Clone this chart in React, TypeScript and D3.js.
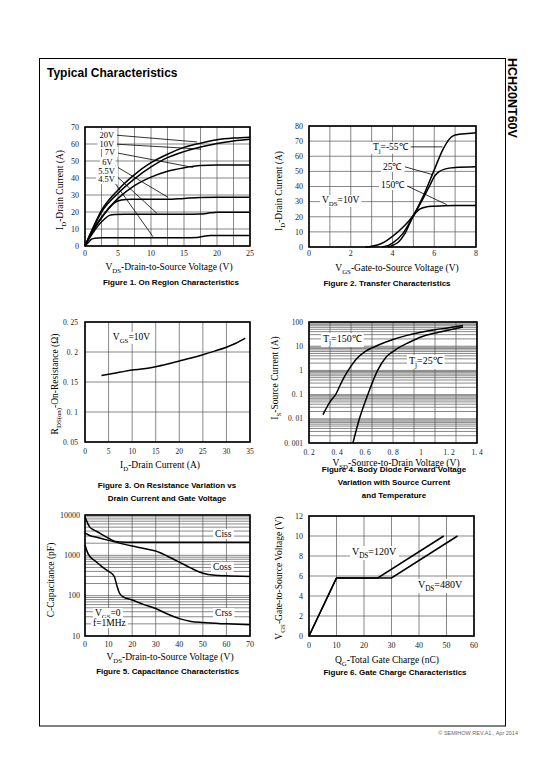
import React, { useLayoutEffect, useRef, useState } from 'react';
import * as d3 from 'd3';

const SERIF = '"Liberation Serif", "Times New Roman", serif';
const SANS = '"Liberation Sans", Arial, sans-serif';

// ---------- Figure 1: On Region Characteristics ----------
const fig1Vds20 = [0, 1, 2.5, 5, 7.5, 10, 12.5, 15, 17.5, 20, 22.5, 25];
const fig1Id20 = [0, 9, 21, 33, 42, 49, 54, 58, 60.5, 62.5, 63.5, 64];
const fig1Vds10 = [0, 1, 2.5, 5, 7.5, 10, 12.5, 15, 17.5, 20, 22.5, 25];
const fig1Id10 = [0, 8.5, 20, 31, 39.5, 46.5, 52, 55.5, 58.2, 60.3, 61.8, 62.8];
const fig1Vds7 = [0, 1, 2.5, 5, 7.5, 10, 12.5, 15, 17.5, 20, 25];
const fig1Id7 = [0, 8, 17, 28, 35.5, 40.5, 44, 46, 47.3, 47.6, 47.6];
const fig1Vds6 = [0, 1, 2.5, 3.5, 4.5, 5.5, 7, 10, 12.5, 15, 17.5, 20, 25];
const fig1Id6 = [0, 7.5, 16.5, 21.5, 25.5, 27, 27.5, 27.5, 27.5, 28, 28.5, 28.7, 28.7];
const fig1Vds55 = [0, 1, 2, 3, 3.7, 4.5, 6, 10, 15, 17.5, 19, 20, 25];
const fig1Id55 = [0, 6.5, 12, 16, 18, 18.5, 18.7, 18.7, 18.7, 18.8, 19.5, 19.8, 19.8];
const fig1Vds45 = [0, 0.5, 1, 1.5, 2.5, 5, 10, 15, 17, 18, 19, 25];
const fig1Id45 = [0, 2, 4, 4.6, 4.8, 4.8, 4.8, 4.8, 5, 5.8, 6.2, 6.2];
const fig1XTicks = [0, 5, 10, 15, 20, 25];
const fig1YTicks = [0, 10, 20, 30, 40, 50, 60, 70];

// ---------- Figure 2: Transfer Characteristics ----------
const fig2VgsM55 = [2.7, 3, 3.5, 4, 4.5, 5, 5.5, 6, 6.4, 6.7, 6.9, 7.2, 7.6, 8];
const fig2IdM55 = [0, 0.5, 2.5, 7, 13, 21, 34.5, 51, 64, 71, 73.5, 74.5, 75, 75.5];
const fig2Vgs25 = [3.5, 3.8, 4, 4.5, 5, 5.5, 5.8, 6, 6.2, 6.5, 7, 8];
const fig2Id25 = [0, 1, 2.5, 9, 20.5, 33, 41, 46.5, 49.5, 51.5, 52.5, 53];
const fig2Vgs150 = [3.8, 4, 4.3, 4.6, 5, 5.3, 5.6, 6, 7, 8];
const fig2Id150 = [0, 1, 3.5, 9, 20.5, 25, 26.5, 27, 27.5, 27.5];
const fig2XTicks = [0, 2, 4, 6, 8];
const fig2YTicks = [0, 10, 20, 30, 40, 50, 60, 70, 80];

// ---------- Figure 3: On Resistance ----------
const fig3Id = [3.5, 5, 7.5, 10, 12.5, 15, 17.5, 20, 22.5, 25, 27.5, 30, 32, 34];
const fig3Rds = [0.161, 0.163, 0.1665, 0.17, 0.172, 0.1755, 0.18, 0.185, 0.19, 0.1955, 0.2015, 0.208, 0.2145, 0.223];
const fig3XTicks = [0, 5, 10, 15, 20, 25, 30, 35];
const fig3YTicks = [0.05, 0.1, 0.15, 0.2, 0.25];
const fig3YTickLabels = ['0. 05', '0. 1', '0. 15', '0. 2', '0. 25'];

// ---------- Figure 4: Body Diode ----------
const fig4Vsd150 = [0.3, 0.35, 0.39, 0.44, 0.48, 0.54, 0.6, 0.65, 0.7, 0.8, 0.9, 1.0, 1.1, 1.2, 1.3];
const fig4Is150 = [0.015, 0.05, 0.1, 0.4, 1, 3, 6, 8.5, 11.5, 19, 28, 38, 48, 58, 72];
const fig4Vsd25 = [0.514, 0.56, 0.62, 0.69, 0.75, 0.8, 0.86, 0.9, 1.0, 1.1, 1.2, 1.3];
const fig4Is25 = [0.001, 0.01, 0.1, 1, 3.5, 6, 10, 13, 24, 35, 47, 62];
const fig4XTicks = [0.2, 0.4, 0.6, 0.8, 1, 1.2, 1.4];
const fig4XTickLabels = ['0. 2', '0. 4', '0. 6', '0. 8', '1', '1. 2', '1. 4'];
const fig4YTicks = [0.001, 0.01, 0.1, 1, 10, 100];
const fig4YTickLabels = ['0. 001', '0. 01', '0. 1', '1', '10', '100'];

// ---------- Figure 5: Capacitance ----------
const fig5VdsCiss = [0, 1, 2, 3, 5, 7.5, 10, 12.5, 15, 20, 30, 40, 50, 60, 70];
const fig5Ciss = [9000, 6500, 5000, 4500, 3900, 3200, 2650, 2250, 2150, 2120, 2120, 2120, 2110, 2100, 2100];
const fig5VdsCoss = [0, 2, 5, 10, 15, 20, 25, 30, 35, 40, 45, 50, 55, 60, 70];
const fig5Coss = [3600, 3100, 2800, 2350, 1980, 1700, 1480, 1280, 950, 680, 480, 360, 320, 310, 300];
const fig5VdsCrss = [0, 1, 2, 4, 6, 8, 10, 11.5, 12.5, 13.5, 14.5, 16, 20, 25, 30, 35, 40, 45, 50, 60, 70];
const fig5Crss = [1800, 1200, 950, 750, 600, 480, 400, 350, 290, 180, 120, 95, 78, 60, 48, 35, 27, 23, 21.5, 20, 19];
const fig5XTicks = [0, 10, 20, 30, 40, 50, 60, 70];
const fig5YTicks = [10, 100, 1000, 10000];

// ---------- Figure 6: Gate Charge ----------
const fig6Qg120 = [0, 10, 25, 49];
const fig6Vgs120 = [0, 5.8, 5.8, 10];
const fig6Qg480 = [0, 10, 30, 54];
const fig6Vgs480 = [0, 5.8, 5.8, 10];
const fig6XTicks = [0, 10, 20, 30, 40, 50, 60];
const fig6YTicks = [0, 2, 4, 6, 8, 10, 12];

type Seg = { t: string; sub?: boolean };
const S = (t: string, sub = false): Seg => ({ t, sub });

const zip = (xs: number[], ys: number[]): [number, number][] => xs.map((v, i) => [v, ys[i]]);
const logGrid = (min: number, max: number) => {
  const out: number[] = [];
  for (let k = Math.round(Math.log10(min)); k < Math.round(Math.log10(max)); k++) {
    for (let m = 1; m <= 9; m++) out.push(m * Math.pow(10, k));
  }
  out.push(max);
  return out;
};

function RichText(props: any) {
  const { segs, size, x, y, anchor = 'start', transform, font = SERIF, weight, textRef, fill = '#000' } = props;
  const subSize = size * 0.72;
  const shift = size * 0.3;
  return (
    <text ref={textRef} x={x} y={y} transform={transform} textAnchor={anchor} fontFamily={font}
      fontSize={size} fontWeight={weight} fill={fill}>
      {segs.map((s: Seg, i: number) => {
        const prev = i > 0 ? !!segs[i - 1].sub : false;
        const cur = !!s.sub;
        const dy = cur && !prev ? shift : !cur && prev ? -shift : 0;
        return (
          <tspan key={i} dy={dy || undefined} fontSize={cur ? subSize : size}>{s.t}</tspan>
        );
      })}
    </text>
  );
}

function BoxedLabel(props: any) {
  const { segs, size, x, y, box, pad = 2 } = props;
  const ref = useRef<SVGTextElement>(null);
  const [bb, setBb] = useState<any>(null);
  useLayoutEffect(() => {
    if (ref.current && box) {
      const b = ref.current.getBBox();
      setBb({ x: b.x, y: b.y, w: b.width, h: b.height });
    }
  }, []);
  return (
    <g>
      {bb && <rect x={bb.x - pad} y={bb.y} width={bb.w + 2 * pad} height={bb.h} fill="#fff" />}
      <RichText textRef={ref} segs={segs} size={size} x={x} y={y} />
    </g>
  );
}

type PanelCfg = {
  box: { l: number; r: number; t: number; b: number };
  xDomain: [number, number];
  yDomain: [number, number];
  yLog?: boolean;
  gridX: number[];
  gridY: number[];
  xTicks: number[];
  xTickLabels: string[];
  yTicks: number[];
  yTickLabels: string[];
  xTickDy: number;
  yTickDx: number;
  tickSize?: number;
  series: { pts: [number, number][]; linear?: boolean }[];
  leaders?: [number, number, number, number][];
  labels?: { segs: Seg[]; x: number; y: number; size: number; box?: boolean }[];
  xLabel: { segs: Seg[]; cx: number; y: number };
  yLabel: { segs: Seg[]; x: number; cy: number };
  caption: { lines: string[]; cx: number; y: number };
};

function Panel({ cfg }: { cfg: PanelCfg }) {
  const { l, r, t, b } = cfg.box;
  const x = d3.scaleLinear().domain(cfg.xDomain).range([l, r]);
  const y = (cfg.yLog ? d3.scaleLog() : d3.scaleLinear()).domain(cfg.yDomain).range([b, t]);
  const ts = cfg.tickSize || 8;
  return (
    <g>
      <rect x={l} y={t} width={r - l} height={b - t} fill="#fff" />
      {cfg.gridX.map((v, i) => (
        <line key={'gx' + i} x1={x(v)} x2={x(v)} y1={t} y2={b} stroke="#555" strokeWidth={0.7} />
      ))}
      {cfg.gridY.map((v, i) => (
        <line key={'gy' + i} x1={l} x2={r} y1={y(v)} y2={y(v)} stroke="#555" strokeWidth={0.7} />
      ))}
      {cfg.series.map((s, i) => {
        const line = d3.line<[number, number]>()
          .x((d) => x(d[0]))
          .y((d) => y(d[1]))
          .curve(s.linear ? d3.curveLinear : d3.curveMonotoneX);
        return <path key={'s' + i} d={line(s.pts) || ''} fill="none" stroke="#000" strokeWidth={1.5} />;
      })}
      {(cfg.leaders || []).map((ld, i) => (
        <line key={'ld' + i} x1={x(ld[0])} y1={y(ld[1])} x2={x(ld[2])} y2={y(ld[3])} stroke="#000" strokeWidth={0.8} />
      ))}
      {(cfg.labels || []).map((lb, i) => (
        <BoxedLabel key={'lb' + i} segs={lb.segs} size={lb.size} x={x(lb.x)} y={y(lb.y)} box={lb.box} />
      ))}
      <rect x={l} y={t} width={r - l} height={b - t} fill="none" stroke="#000" strokeWidth={1.6} />
      {cfg.xTicks.map((v, i) => (
        <text key={'xt' + i} x={x(v)} y={b + cfg.xTickDy} textAnchor="middle" fontFamily={SERIF} fontSize={ts} fill="#222">
          {cfg.xTickLabels[i]}
        </text>
      ))}
      {cfg.yTicks.map((v, i) => (
        <text key={'yt' + i} x={l - cfg.yTickDx} y={y(v) + ts * 0.35} textAnchor="end" fontFamily={SERIF} fontSize={ts} fill="#222">
          {cfg.yTickLabels[i]}
        </text>
      ))}
      <RichText segs={cfg.xLabel.segs} size={9.5} x={cfg.xLabel.cx} y={cfg.xLabel.y} anchor="middle" />
      <RichText segs={cfg.yLabel.segs} size={9.5} x={0} y={0} anchor="middle"
        transform={`translate(${cfg.yLabel.x},${cfg.yLabel.cy}) rotate(-90)`} />
      {cfg.caption.lines.map((ln, i) => (
        <text key={'cap' + i} x={cfg.caption.cx} y={cfg.caption.y + i * 13} textAnchor="middle"
          fontFamily={SANS} fontWeight="bold" fontSize={8} fill="#000">{ln}</text>
      ))}
    </g>
  );
}

const str = (a: number[]) => a.map((v) => String(v));

export default function App() {
  const panels: PanelCfg[] = [
    {
      box: { l: 85, r: 250, t: 127, b: 246 },
      xDomain: [0, 25], yDomain: [0, 70],
      gridX: d3.range(0, 25.01, 2.5), gridY: d3.range(0, 70.01, 10),
      xTicks: fig1XTicks, xTickLabels: str(fig1XTicks),
      yTicks: fig1YTicks, yTickLabels: str(fig1YTicks),
      xTickDy: 9.5, yTickDx: 6,
      series: [
        { pts: zip(fig1Vds20, fig1Id20) }, { pts: zip(fig1Vds10, fig1Id10) },
        { pts: zip(fig1Vds7, fig1Id7) }, { pts: zip(fig1Vds6, fig1Id6) },
        { pts: zip(fig1Vds55, fig1Id55) }, { pts: zip(fig1Vds45, fig1Id45) },
      ],
      leaders: [
        [4.4, 65.3, 17, 61.2], [4.3, 60, 17.6, 57], [4.1, 55.3, 16.4, 46.2],
        [3.6, 49.4, 12.6, 28.6], [4.1, 43.5, 10.9, 19.2], [4.1, 39.4, 10.3, 5.5],
      ],
      labels: [
        { segs: [S('20V')], x: 2.2, y: 63.5, size: 8.5, box: true },
        { segs: [S('10V')], x: 2.2, y: 58.3, size: 8.5, box: true },
        { segs: [S('7V')], x: 3.0, y: 53.5, size: 8.5, box: true },
        { segs: [S('6V')], x: 2.6, y: 47.6, size: 8.5, box: true },
        { segs: [S('5.5V')], x: 2.0, y: 42.4, size: 8.5, box: true },
        { segs: [S('4.5V')], x: 2.0, y: 37.6, size: 8.5, box: true },
      ],
      xLabel: { segs: [S('V'), S('DS', true), S('-Drain-to-Source Voltage (V)')], cx: 169, y: 270 },
      yLabel: { segs: [S('I'), S('D', true), S('-Drain Current (A)')], x: 63, cy: 190 },
      caption: { lines: ['Figure 1. On Region Characteristics'], cx: 171, y: 285 },
    },
    {
      box: { l: 309, r: 476, t: 126, b: 247 },
      xDomain: [0, 8], yDomain: [0, 80],
      gridX: d3.range(0, 8.01, 1), gridY: d3.range(0, 80.01, 10),
      xTicks: fig2XTicks, xTickLabels: str(fig2XTicks),
      yTicks: fig2YTicks, yTickLabels: str(fig2YTicks),
      xTickDy: 9, yTickDx: 6,
      series: [
        { pts: zip(fig2VgsM55, fig2IdM55) }, { pts: zip(fig2Vgs25, fig2Id25) },
        { pts: zip(fig2Vgs150, fig2Id150) },
      ],
      leaders: [[4.8, 66.2, 6.4, 66.2], [4.6, 53, 5.93, 47.8], [4.6, 41, 6.6, 28]],
      labels: [
        { segs: [S('T'), S('j', true), S('=-55℃')], x: 3.06, y: 64.2, size: 9.5, box: true },
        { segs: [S('25℃')], x: 3.54, y: 51, size: 9.5, box: true },
        { segs: [S('150℃')], x: 3.45, y: 39, size: 9.5, box: true },
        { segs: [S('V'), S('DS', true), S('=10V')], x: 0.62, y: 29, size: 9.5, box: true },
      ],
      xLabel: { segs: [S('V'), S('GS', true), S('-Gate-to-Source Voltage (V)')], cx: 397, y: 271 },
      yLabel: { segs: [S('I'), S('D', true), S('-Drain Current (A)')], x: 282, cy: 191 },
      caption: { lines: ['Figure 2. Transfer Characteristics'], cx: 387, y: 286 },
    },
    {
      box: { l: 85, r: 250, t: 322, b: 442 },
      xDomain: [0, 35], yDomain: [0.05, 0.25],
      gridX: d3.range(0, 35.01, 5), gridY: d3.range(0.05, 0.2501, 0.05),
      xTicks: fig3XTicks, xTickLabels: str(fig3XTicks),
      yTicks: fig3YTicks, yTickLabels: fig3YTickLabels,
      xTickDy: 12, yTickDx: 7, tickSize: 7.5,
      series: [{ pts: zip(fig3Id, fig3Rds) }],
      labels: [{ segs: [S('V'), S('GS', true), S('=10V')], x: 5.9, y: 0.22, size: 9.5, box: true }],
      xLabel: { segs: [S('I'), S('D', true), S('-Drain Current (A)')], cx: 160, y: 468 },
      yLabel: { segs: [S('R'), S('DS(on)', true), S('-On-Resistance (Ω)')], x: 58, cy: 384 },
      caption: { lines: ['Figure 3. On Resistance Variation vs', 'Drain Current and Gate Voltage'], cx: 167, y: 488 },
    },
    {
      box: { l: 309, r: 477, t: 322, b: 443 },
      xDomain: [0.2, 1.4], yDomain: [0.001, 100], yLog: true,
      gridX: d3.range(0, 9).map((i) => 0.2 + i * 0.15), gridY: logGrid(0.001, 100),
      xTicks: fig4XTicks, xTickLabels: fig4XTickLabels,
      yTicks: fig4YTicks, yTickLabels: fig4YTickLabels,
      xTickDy: 12, yTickDx: 6, tickSize: 7.5,
      series: [{ pts: zip(fig4Vsd150, fig4Is150) }, { pts: zip(fig4Vsd25, fig4Is25) }],
      labels: [
        { segs: [S('T'), S('j', true), S('=150℃')], x: 0.3, y: 14.8, size: 10, box: true },
        { segs: [S('T'), S('j', true), S('=25℃')], x: 0.914, y: 1.84, size: 10, box: true },
      ],
      xLabel: { segs: [S('V'), S('SD', true), S('-Source-to-Drain Voltage (V)')], cx: 396, y: 466 },
      yLabel: { segs: [S('I'), S('S', true), S('-Source Current (A)')], x: 278, cy: 378 },
      caption: { lines: ['Figure 4. Body Diode Forward Voltage', 'Variation with Source Current', 'and Temperature'], cx: 394, y: 471.5 },
    },
    {
      box: { l: 85, r: 250, t: 515, b: 636 },
      xDomain: [0, 70], yDomain: [10, 10000], yLog: true,
      gridX: d3.range(0, 70.01, 10), gridY: logGrid(10, 10000),
      xTicks: fig5XTicks, xTickLabels: str(fig5XTicks),
      yTicks: fig5YTicks, yTickLabels: str(fig5YTicks),
      xTickDy: 11, yTickDx: 5,
      series: [
        { pts: zip(fig5VdsCiss, fig5Ciss) }, { pts: zip(fig5VdsCoss, fig5Coss) },
        { pts: zip(fig5VdsCrss, fig5Crss) },
      ],
      labels: [
        { segs: [S('Ciss')], x: 55.2, y: 2860, size: 9.5, box: true },
        { segs: [S('Coss')], x: 54.3, y: 437, size: 9.5, box: true },
        { segs: [S('Crss')], x: 55.2, y: 31.3, size: 9.5, box: true },
        { segs: [S('V'), S('GS', true), S('=0')], x: 4.2, y: 31.3, size: 9.5, box: true },
        { segs: [S('f=1MHz')], x: 3.4, y: 17.7, size: 9.5, box: true },
      ],
      xLabel: { segs: [S('V'), S('DS', true), S('-Drain-to-Source Voltage (V)')], cx: 170, y: 660 },
      yLabel: { segs: [S('C-Capacitance (pF)')], x: 54, cy: 580 },
      caption: { lines: ['Figure 5. Capacitance Characteristics'], cx: 167.5, y: 674 },
    },
    {
      box: { l: 309, r: 474, t: 516, b: 636 },
      xDomain: [0, 60], yDomain: [0, 12],
      gridX: d3.range(0, 60.01, 10), gridY: d3.range(0, 12.01, 2),
      xTicks: fig6XTicks, xTickLabels: str(fig6XTicks),
      yTicks: fig6YTicks, yTickLabels: str(fig6YTicks),
      xTickDy: 12, yTickDx: 6,
      series: [
        { pts: zip(fig6Qg120, fig6Vgs120), linear: true },
        { pts: zip(fig6Qg480, fig6Vgs480), linear: true },
      ],
      labels: [
        { segs: [S('V'), S('DS', true), S('=120V')], x: 15.6, y: 8.1, size: 10, box: true },
        { segs: [S('V'), S('DS', true), S('=480V')], x: 39.6, y: 4.8, size: 10, box: true },
      ],
      xLabel: { segs: [S('Q'), S('G', true), S('-Total Gate Charge (nC)')], cx: 387, y: 663 },
      yLabel: { segs: [S('V'), S('GS', true), S('-Gate-to-Source Voltage (V)')], x: 282, cy: 578 },
      caption: { lines: ['Figure 6. Gate Charge Characteristics'], cx: 395, y: 675 },
    },
  ];

  return (
    <svg width={540} height={780} viewBox="0 0 540 780"
      style={{ position: 'absolute', left: 0, top: 0, background: '#fff' }}>
      <rect x={0} y={0} width={540} height={780} fill="#fff" />
      <rect x={39.5} y={58.5} width={466} height={667.5} fill="none" stroke="#000" strokeWidth={1} />
      <text x={47} y={76.5} fontFamily={SANS} fontWeight="bold" fontSize={12} fill="#000">Typical Characteristics</text>
      <text x={0} y={0} transform="translate(508,58) rotate(90)" fontFamily={SANS} fontWeight="bold" fontSize={12.5} fill="#000">
        HCH20NT60V
      </text>
      {panels.map((p, i) => <Panel key={i} cfg={p} />)}
      <text x={518} y={735} textAnchor="end" fontFamily={SANS} fontSize={5.5} fill="#666">© SEMIHOW REV.A1., Apr 2014</text>
    </svg>
  );
}
